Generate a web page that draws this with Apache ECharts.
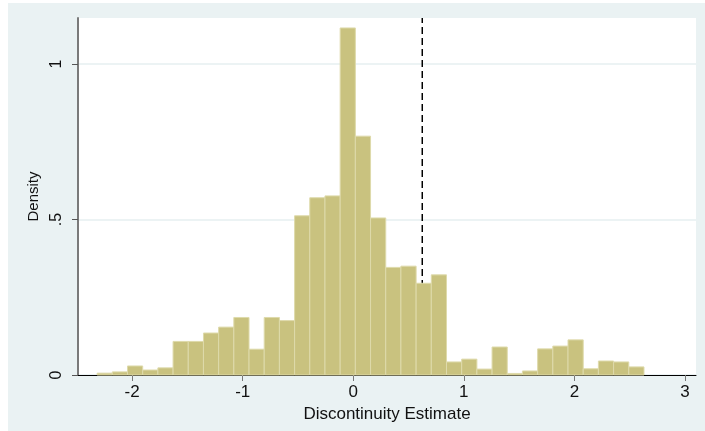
<!DOCTYPE html>
<html>
<head>
<meta charset="utf-8">
<script src="https://cdn.jsdelivr.net/npm/echarts@6/dist/echarts.min.js"></script>
<style>
  html, body { margin: 0; padding: 0; background: #ffffff; }
  #chart { position: absolute; left: 8px; top: 3px; width: 697px; height: 428px; }
</style>
</head>
<body>
<div id="chart"></div>
<script>
// Histogram of discontinuity estimates (density scale)
const binStart = -2.317;   // left edge of the first bin
const binWidth = 0.1374;   // width of every bin
const densities = [
  0.006, 0.010, 0.029, 0.016, 0.023, 0.108, 0.108, 0.135, 0.154, 0.185,
  0.083, 0.185, 0.175, 0.512, 0.570, 0.576, 1.116, 0.768, 0.505, 0.346,
  0.350, 0.295, 0.322, 0.042, 0.051, 0.019, 0.090, 0.005, 0.013, 0.084,
  0.093, 0.113, 0.020, 0.045, 0.042, 0.026
];
const xTicks = [-2, -1, 0, 1, 2, 3];
const yTicks = [0, 0.5, 1];
const yTickLabels = ['0', '.5', '1'];
const referenceLine = 0.624; // dashed vertical marker

const xMin = -2.49, xMax = 3.1, yMax = 1.148;

const binData = densities.map((d, i) => [binStart + i * binWidth, binStart + (i + 1) * binWidth, d]);

const font = '"Liberation Sans", Arial, sans-serif';
const chart = echarts.init(document.getElementById('chart'), null, { renderer: 'canvas' });

chart.setOption({
  backgroundColor: '#eaf2f3',
  animation: false,
  grid: {
    left: 70, right: 9, top: 15, bottom: 56,
    show: true, backgroundColor: '#ffffff', borderWidth: 0
  },
  xAxis: {
    type: 'value', min: xMin, max: xMax,
    name: 'Discontinuity Estimate', nameLocation: 'middle', nameGap: 25,
    nameTextStyle: { fontFamily: font, fontSize: 17, color: '#111' },
    axisLine: { show: true, onZero: false, lineStyle: { color: '#000', width: 1 } },
    axisTick: { show: true, length: 6, customValues: xTicks, lineStyle: { color: '#777', width: 1 } },
    axisLabel: { customValues: xTicks, fontFamily: font, fontSize: 17, color: '#111', margin: 9 },
    splitLine: { show: false }
  },
  yAxis: {
    type: 'value', min: 0, max: yMax,
    name: 'Density', nameLocation: 'middle', nameGap: 33, nameRotate: 90,
    nameTextStyle: { fontFamily: font, fontSize: 15, color: '#111' },
    axisLine: { show: true, onZero: false, lineStyle: { color: '#7a7a7a', width: 2 } },
    axisTick: { show: true, length: 6, customValues: yTicks, lineStyle: { color: '#555', width: 1 } },
    axisLabel: {
      customValues: yTicks, rotate: 90, fontFamily: font, fontSize: 16, color: '#111', margin: 13,
      formatter: v => yTickLabels[yTicks.indexOf(v)] ?? String(v)
    },
    splitLine: { show: true, lineStyle: { color: '#e6eff1', width: 1.5 } }
  },
  series: [
    {
      type: 'line', z: 1, silent: true, symbol: 'none',
      data: [[referenceLine, 0], [referenceLine, yMax]],
      lineStyle: { color: '#000', width: 1.5, type: [7, 4] }
    },
    {
      type: 'custom', z: 2, silent: true,
      data: binData,
      encode: { x: [0, 1], y: 2 },
      renderItem: (params, api) => {
        const p0 = api.coord([api.value(0), 0]);
        const p1 = api.coord([api.value(1), api.value(2)]);
        return {
          type: 'rect',
          shape: { x: p0[0], y: p1[1], width: p1[0] - p0[0], height: p0[1] - p1[1] },
          style: { fill: '#c9c27f', stroke: '#dedaab', lineWidth: 1 }
        };
      }
    }
  ]
});
</script>
</body>
</html>
